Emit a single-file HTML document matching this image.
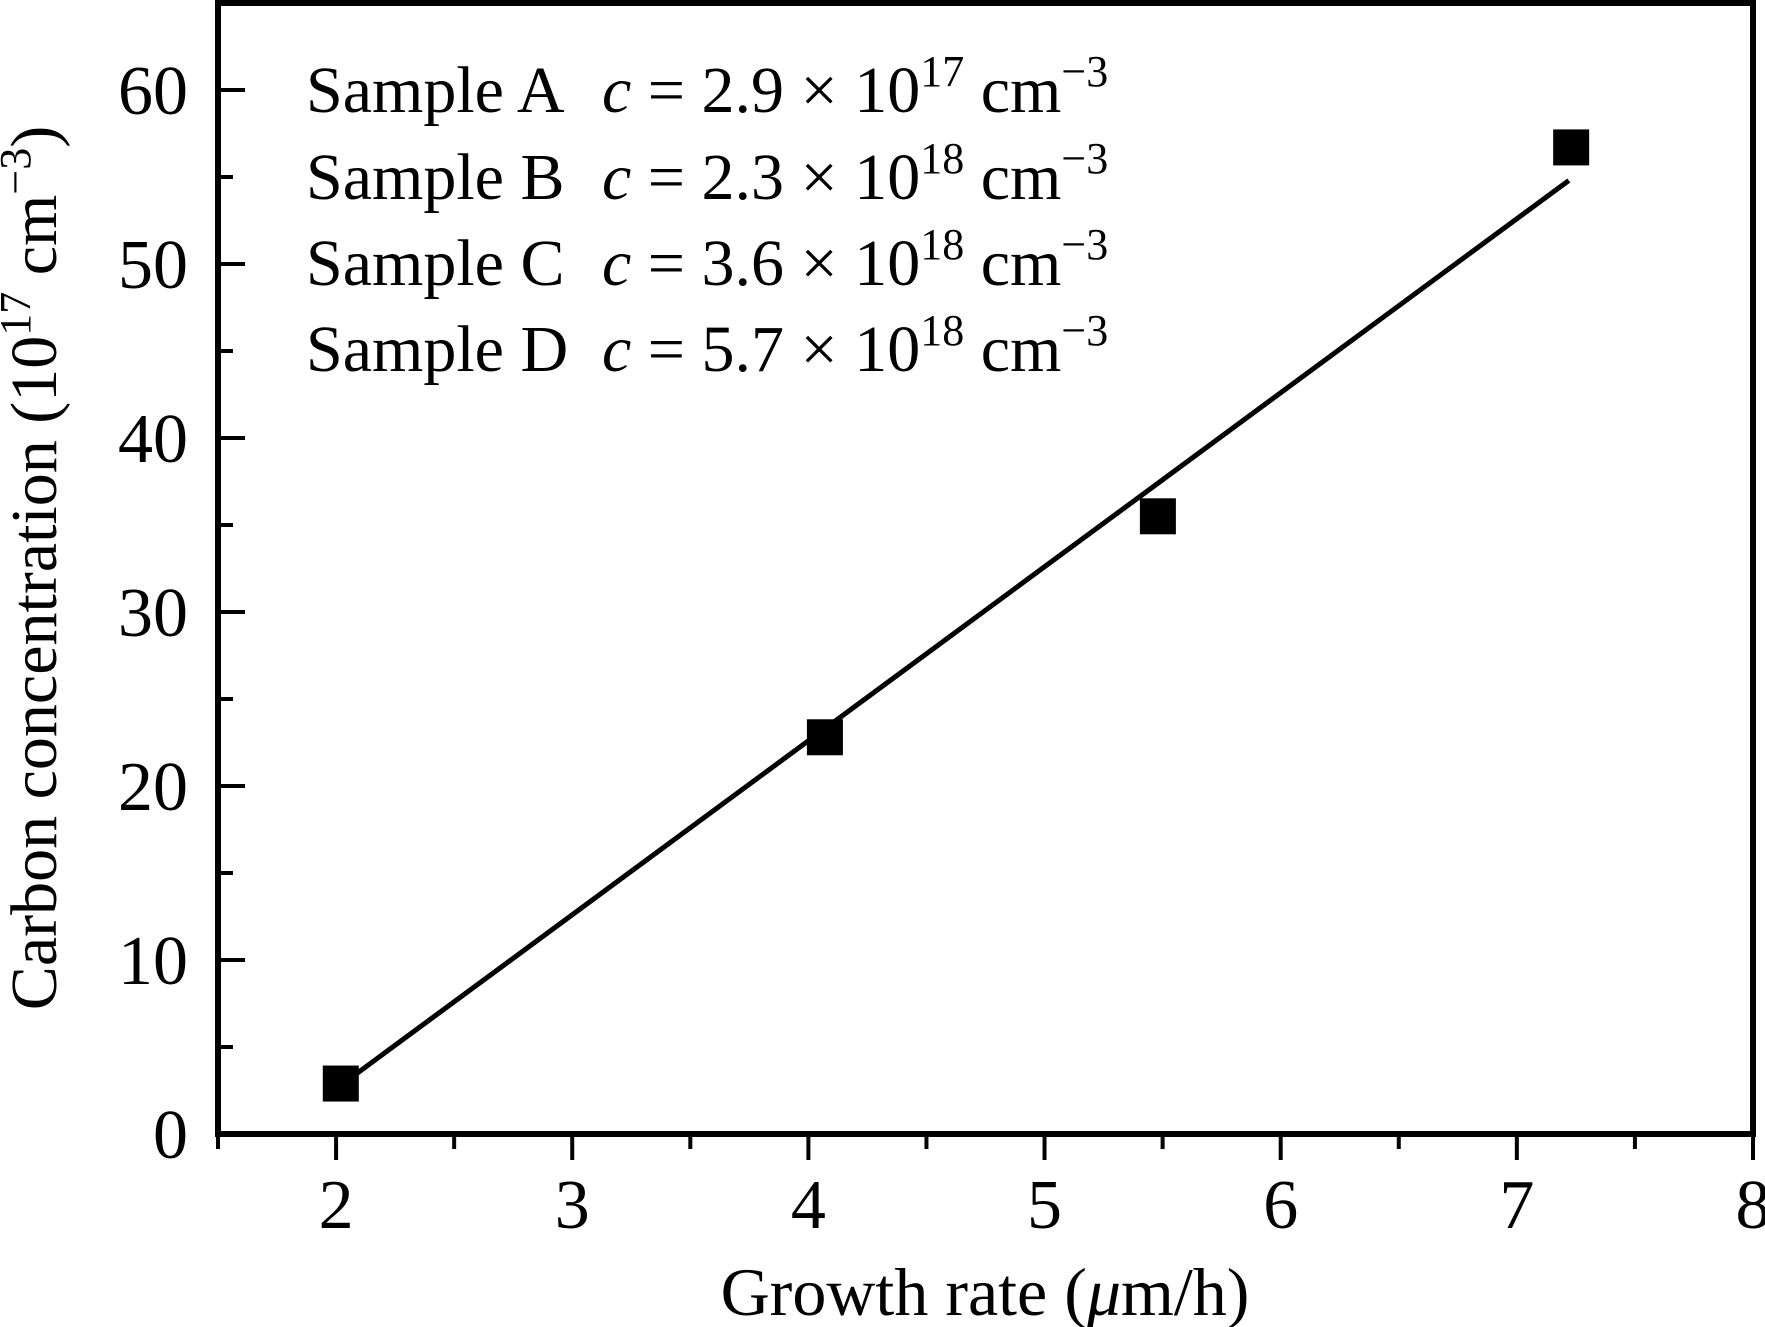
<!DOCTYPE html>
<html><head><meta charset="utf-8"><style>
html,body{margin:0;padding:0;background:#fff}
svg{display:block;font-family:"Liberation Serif",serif}
</style></head><body>
<svg id="chart" width="1765" height="1327" viewBox="0 0 1765 1327">
<g id="ticks"></g>
<g id="marks"></g>
<rect x="218" y="3" width="1535" height="1131" fill="none" stroke="#000" stroke-width="6"/>
<g font-size="66">
<text x="306" y="112">Sample A<tspan x="602" font-style="italic">c</tspan> = 2.9 × 10<tspan dy="-26" font-size="44">17</tspan><tspan dy="26"> cm</tspan><tspan dy="-26" font-size="44">−3</tspan></text>
<text x="306" y="199">Sample B<tspan x="602" font-style="italic">c</tspan> = 2.3 × 10<tspan dy="-26" font-size="44">18</tspan><tspan dy="26"> cm</tspan><tspan dy="-26" font-size="44">−3</tspan></text>
<text x="306" y="285">Sample C<tspan x="602" font-style="italic">c</tspan> = 3.6 × 10<tspan dy="-26" font-size="44">18</tspan><tspan dy="26"> cm</tspan><tspan dy="-26" font-size="44">−3</tspan></text>
<text x="306" y="371">Sample D<tspan x="602" font-style="italic">c</tspan> = 5.7 × 10<tspan dy="-26" font-size="44">18</tspan><tspan dy="26"> cm</tspan><tspan dy="-26" font-size="44">−3</tspan></text>
</g>
<text x="985" y="1315" text-anchor="middle" font-size="68">Growth rate (<tspan font-style="italic">μ</tspan>m/h)</text>
<text transform="translate(56,568) rotate(-90)" text-anchor="middle" font-size="66">Carbon concentration (10<tspan dy="-26" font-size="44">17</tspan><tspan dy="26"> cm</tspan><tspan dy="-26" font-size="44">−3</tspan><tspan dy="26">)</tspan></text>
</svg>
<script>
const xTicks = [2,3,4,5,6,7,8];
const xMinor = [2.5,3.5,4.5,5.5,6.5,7.5];
const yTicks = [0,10,20,30,40,50,60];
const yMinor = [5,15,25,35,45,55];
const growthRate = [2.02,4.07,5.48,7.23];
const carbonConc = [2.9,22.8,35.5,56.7];
const fitX = [2.05,7.22];
const fitSlope = [10.0];
const fitIntercept = [-17.4];

const NS='http://www.w3.org/2000/svg';
const L=218,R=1753,T=3,B=1134;
const X0=1.5,X1=8,Y0=0,Y1=65;
function sx(v){return L+(v-X0)/(X1-X0)*(R-L);}
function sy(v){return B-(v-Y0)/(Y1-Y0)*(B-T);}
function mk(tag,attrs,parent){const e=document.createElementNS(NS,tag);for(const k in attrs)e.setAttribute(k,attrs[k]);parent.appendChild(e);return e;}
const tg=document.getElementById('ticks'), mg=document.getElementById('marks');
xTicks.forEach(v=>{
  const l=mk('line',{x1:sx(v),x2:sx(v),y1:B,y2:B+26,stroke:'#000','stroke-width':4},tg);
  
  
  const t=mk('text',{x:sx(v),y:1228,'text-anchor':'middle','font-size':70},tg);
  t.textContent=v;
  
  
});
xMinor.concat([X0]).forEach(v=>{
  const l=mk('line',{x1:sx(v),x2:sx(v),y1:B,y2:B+15,stroke:'#000','stroke-width':4},tg);
  
  
});
yTicks.forEach(v=>{
  const l=mk('line',{x1:L,x2:L+27,y1:sy(v),y2:sy(v),stroke:'#000','stroke-width':4},tg);
  
  
  const t=mk('text',{x:188,y:sy(v)+24,'text-anchor':'end','font-size':70},tg);
  t.textContent=v;
  
  
});
yMinor.forEach(v=>{
  const l=mk('line',{x1:L,x2:L+15,y1:sy(v),y2:sy(v),stroke:'#000','stroke-width':4},tg);
  
  
});
const fl=mk('line',{x1:sx(fitX[0]),y1:sy(fitSlope[0]*fitX[0]+fitIntercept[0]),x2:sx(fitX[1]),y2:sy(fitSlope[0]*fitX[1]+fitIntercept[0]),stroke:'#000','stroke-width':5},mg);


growthRate.forEach((v,i)=>{
  const s=36;
  const r=mk('rect',{x:sx(v)-s/2,y:sy(carbonConc[i])-s/2,width:s,height:s,fill:'#000'},mg);
  
  
});
</script>
</body></html>
